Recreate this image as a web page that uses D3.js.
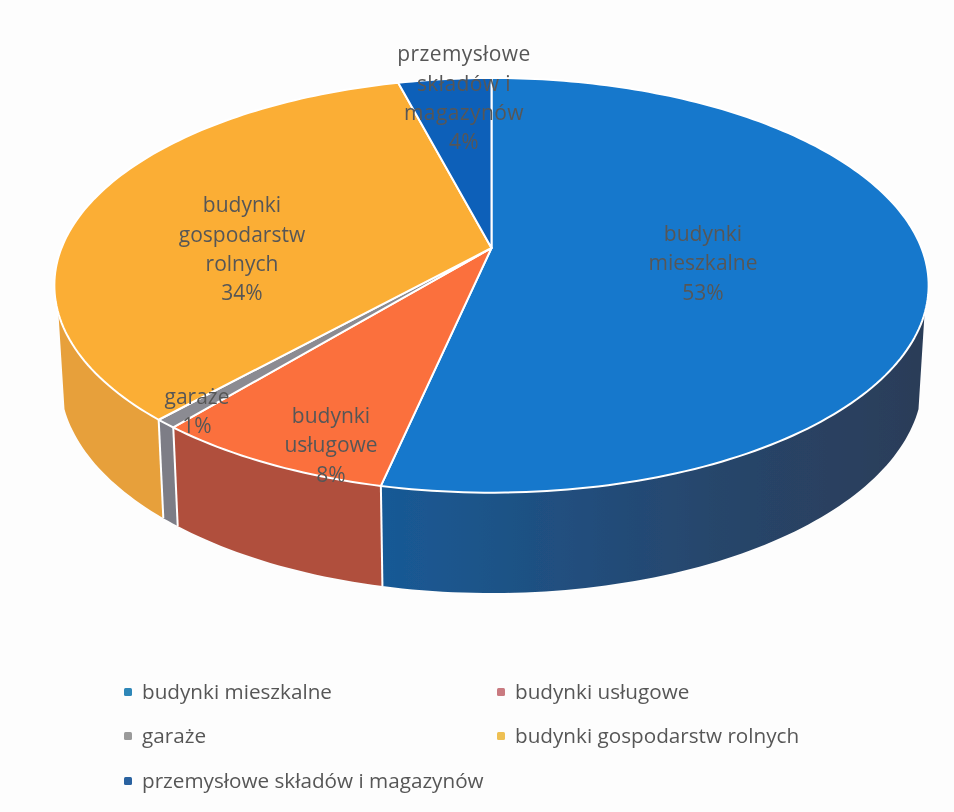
<!DOCTYPE html>
<html>
<head>
<meta charset="utf-8">
<script src="https://cdn.jsdelivr.net/npm/d3@7"></script>
<style>
  html, body { margin: 0; padding: 0; background: #fdfdfd; }
  text { font-family: "Open Sans", sans-serif; fill: #575757; }
</style>
</head>
<body>
<div id="chart"></div>
<script>
const categories = ["budynki mieszkalne", "budynki usługowe", "garaże", "budynki gospodarstw rolnych", "przemysłowe składów i magazynów"];
const shares = [53.4, 7.6, 0.7, 34.2, 4.1];
const labelLines = [["budynki", "mieszkalne"], ["budynki", "usługowe"], ["garaże"], ["budynki", "gospodarstw", "rolnych"], ["przemysłowe", "składów i", "magazynów"]];

const topColors = ["#1578cc", "#fb6f3d", "#8b8b92", "#fbae35", "#0c60b9"];
const wallColors = ["url(#blueWall)", "#b0503d", "#7d7d86", "#e7a03b", "#0c4f96"];
const legendColors = ["#2f87b8", "#c97a80", "#9a9a9a", "#eec052", "#2a62a0"];

const width = 954, height = 812;
const cx = 491.5;
const persp = 0.18;
const upper = { dx: 430, a: -156, b: 248 };
const lower = { dx: 424, a: -144.6, b: 341.7 };

// label centres and legend slots
const labelPos = [[703, 263], [331, 445], [197, 411], [242, 249], [464, 98]];
const legendPos = [[124, 692], [497, 692], [124, 736], [497, 736], [124, 781]];

const svg = d3.select("#chart").append("svg")
  .attr("width", width)
  .attr("height", height)
  .style("display", "block");

const defs = svg.append("defs");
const grad = defs.append("linearGradient").attr("id", "blueWall");
grad.append("stop").attr("offset", "0%").attr("stop-color", "#185a96");
grad.append("stop").attr("offset", "60%").attr("stop-color", "#27466c");
grad.append("stop").attr("offset", "100%").attr("stop-color", "#2b3d58");
defs.append("filter").attr("id", "soft")
  .append("feGaussianBlur").attr("stdDeviation", 0.6);

const color = d3.scaleOrdinal().domain(categories).range(topColors);
const wallColor = d3.scaleOrdinal().domain(categories).range(wallColors);

const arcs = d3.pie().sort(null).value((d, i) => shares[i])(categories);

// pie angle -> picture, tilted circle with perspective
function rim(plane, a) {
  const u = Math.sin(a), v = Math.cos(a), w = 1 + persp * v;
  return [cx + plane.dx * u / w, (plane.a * v + plane.b) / w];
}

function samples(a0, a1) {
  const n = Math.max(2, Math.ceil((a1 - a0) / 0.02));
  return d3.range(n + 1).map(i => a0 + (a1 - a0) * i / n);
}

const chart = svg.append("g").attr("filter", "url(#soft)");

// side walls first, top face covers the hidden part
const wallFrom = Math.PI * 0.6, wallTo = Math.PI * 1.4;
chart.selectAll(".wall")
  .data(arcs.filter(d => d.endAngle > wallFrom && d.startAngle < wallTo))
  .join("path")
  .attr("class", "wall")
  .attr("fill", d => wallColor(d.data))
  .attr("d", d => {
    const as = samples(Math.max(d.startAngle, wallFrom), Math.min(d.endAngle, wallTo));
    const pts = as.map(a => rim(upper, a)).concat(as.slice().reverse().map(a => rim(lower, a)));
    return d3.line()(pts) + "Z";
  });

// white seams between the walls
chart.selectAll(".seam")
  .data(arcs.filter(d => d.endAngle > wallFrom && d.endAngle < wallTo))
  .join("line")
  .attr("class", "seam")
  .attr("stroke", "#fff")
  .attr("stroke-width", 2)
  .attr("x1", d => rim(upper, d.endAngle)[0])
  .attr("y1", d => rim(upper, d.endAngle)[1])
  .attr("x2", d => rim(lower, d.endAngle)[0])
  .attr("y2", d => rim(lower, d.endAngle)[1]);

chart.selectAll(".slice")
  .data(arcs)
  .join("path")
  .attr("class", "slice")
  .attr("fill", d => color(d.data))
  .attr("stroke", "#fff")
  .attr("stroke-width", 2)
  .attr("stroke-linejoin", "round")
  .attr("d", d => {
    const pts = samples(d.startAngle, d.endAngle).map(a => rim(upper, a));
    pts.unshift([cx, upper.b]);
    return d3.line()(pts) + "Z";
  });

// data labels
const labels = svg.append("g").attr("filter", "url(#soft)");
arcs.forEach((d, i) => {
  const lines = labelLines[i].concat(Math.round(shares[i]) + "%");
  const lineGap = 29.3;
  const top = labelPos[i][1] - (lines.length - 1) * lineGap / 2;
  labels.append("g").selectAll("text")
    .data(lines)
    .join("text")
    .attr("x", labelPos[i][0])
    .attr("y", (t, k) => top + k * lineGap)
    .attr("dy", "0.35em")
    .attr("text-anchor", "middle")
    .style("font-size", "21px")
    .style("letter-spacing", i === 4 ? "0.4px" : null)
    .text(t => t);
});

// legend
const legend = svg.append("g").attr("filter", "url(#soft)");
legend.selectAll("rect")
  .data(categories)
  .join("rect")
  .attr("x", (d, i) => legendPos[i][0])
  .attr("y", (d, i) => legendPos[i][1] - 4)
  .attr("width", 8)
  .attr("height", 8)
  .attr("rx", 1.5)
  .attr("fill", (d, i) => legendColors[i]);
legend.selectAll("text")
  .data(categories)
  .join("text")
  .attr("x", (d, i) => legendPos[i][0] + 18)
  .attr("y", (d, i) => legendPos[i][1])
  .attr("dy", "0.35em")
  .style("font-size", "20.7px")
  .text(d => d);
</script>
</body>
</html>
